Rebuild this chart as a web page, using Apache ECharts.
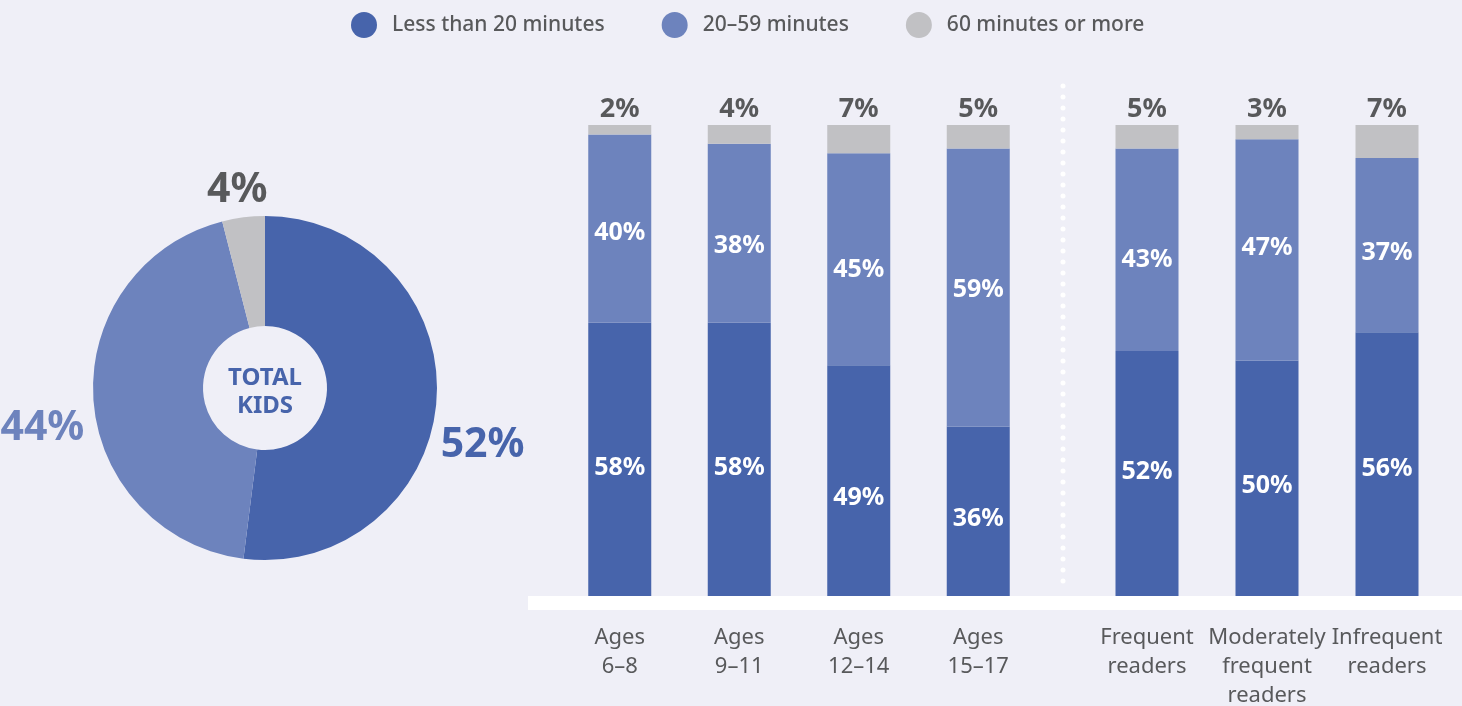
<!DOCTYPE html>
<html>
<head>
<meta charset="utf-8">
<script src="https://cdn.jsdelivr.net/npm/echarts@6/dist/echarts.min.js"></script>
<style>
  html, body { margin: 0; padding: 0; background: #efeff7; }
  #chart { width: 1462px; height: 706px; }
</style>
</head>
<body>
<div id="chart"></div>
<script>
// 数据
var seriesNames = ['Less than 20 minutes', '20–59 minutes', '60 minutes or more'];
var totalKids = [52, 44, 4];

var ageCats = ['Ages\n6–8', 'Ages\n9–11', 'Ages\n12–14', 'Ages\n15–17'];
var ageUnder20 = [58, 58, 49, 36];
var age20to59 = [40, 38, 45, 59];
var age60plus = [2, 4, 7, 5];

var readerCats = ['Frequent\nreaders', 'Moderately\nfrequent\nreaders', 'Infrequent\nreaders'];
var readerUnder20 = [52, 50, 56];
var reader20to59 = [43, 47, 37];
var reader60plus = [5, 3, 7];

var colors = ['#4764ab', '#6d83bd', '#c1c1c4'];
var grayText = '#58595b';
var font = '"Noto Sans"';

// 标签偏移（像素）
var pieLabelShift = [[4, 47], [-9, 30], [24, -27]];
var ageDarkNudge = [8, 8, 17, 8];
var ageMidNudge = [4, 13, 11, 2];
var readerDarkNudge = [-2, 8, 5];
var readerMidNudge = [10, -2, 8];

var myChart = echarts.init(document.getElementById('chart'));

function pctLabel(p) { return p.value + '%'; }

function barSeries(name, data, idx, color, label, nudge) {
    var s = {
        name: name,
        type: 'bar',
        stack: 'g' + idx,
        xAxisIndex: idx,
        yAxisIndex: idx,
        barWidth: 63,
        data: data,
        itemStyle: { color: color },
        label: label
    };
    if (nudge) {
        s.labelLayout = function(params) {
            return { dy: nudge[params.dataIndex] };
        };
    }
    return s;
}

var insideLabel = {
    show: true,
    position: 'inside',
    color: '#fff',
    fontFamily: font,
    fontWeight: 'bold',
    fontSize: 25,
    formatter: pctLabel
};
var topLabel = {
    show: true,
    position: 'top',
    distance: 2,
    color: grayText,
    fontFamily: font,
    fontWeight: 'bold',
    fontSize: 27,
    formatter: pctLabel
};

function xAxisOf(idx, cats) {
    return {
        type: 'category',
        gridIndex: idx,
        data: cats,
        axisLine: { show: false },
        axisTick: { show: false },
        axisLabel: {
            color: grayText,
            fontFamily: font,
            fontSize: 22,
            lineHeight: 29,
            margin: 27,
            interval: 0
        }
    };
}
var yAxisBase = { type: 'value', min: 0, max: 100, show: false };

var option = {
    backgroundColor: '#efeff7',
    animation: false,
    legend: {
        left: 346,
        top: 7,
        icon: 'circle',
        itemWidth: 26,
        itemHeight: 26,
        itemGap: 57,
        data: seriesNames,
        textStyle: {
            color: grayText,
            fontFamily: font,
            fontWeight: 500,
            fontSize: 21,
            padding: [0, 0, 0, 10]
        }
    },
    grid: [
        { left: 560, width: 478, top: 125, bottom: 110, outerBoundsMode: 'none' },
        { left: 1087, width: 360, top: 125, bottom: 110, outerBoundsMode: 'none' }
    ],
    xAxis: [
        xAxisOf(0, ageCats),
        xAxisOf(1, readerCats)
    ],
    yAxis: [
        Object.assign({ gridIndex: 0 }, yAxisBase),
        Object.assign({ gridIndex: 1 }, yAxisBase)
    ],
    graphic: [
        {
            type: 'rect',
            shape: { x: 528, y: 596, width: 934, height: 14 },
            style: { fill: '#ffffff' },
            silent: true
        },
        {
            type: 'line',
            shape: { x1: 1063, y1: 86, x2: 1063, y2: 592 },
            style: { stroke: '#ffffff', lineWidth: 5, lineDash: [0, 11], lineCap: 'round' },
            silent: true
        }
    ],
    series: [
        {
            type: 'pie',
            center: [265, 388],
            radius: [62, 172],
            startAngle: 90,
            clockwise: true,
            avoidLabelOverlap: false,
            silent: true,
            data: totalKids.map(function(v, i) {
                return { value: v, name: seriesNames[i], itemStyle: { color: colors[i] },
                    label: { color: i === 2 ? grayText : colors[i] } };
            }),
            label: {
                show: true,
                position: 'outside',
                fontFamily: font,
                fontWeight: 'bold',
                fontSize: 41,
                distanceToLabelLine: 0,
                formatter: pctLabel
            },
            labelLine: { show: false, length: 0, length2: 0 },
            labelLayout: function(params) {
                var s = pieLabelShift[params.dataIndex];
                return { dx: s[0], dy: s[1] };
            }
        },
        {
            type: 'pie',
            center: [265, 392],
            radius: [0, 60],
            silent: true,
            data: [{ value: 1, name: 'TOTAL\nKIDS' }],
            itemStyle: { color: 'rgba(0,0,0,0)' },
            label: {
                show: true,
                position: 'center',
                color: colors[0],
                fontFamily: font,
                fontWeight: 'bold',
                fontSize: 24,
                lineHeight: 28
            },
            labelLine: { show: false }
        },
        barSeries(seriesNames[0], ageUnder20, 0, colors[0], insideLabel, ageDarkNudge),
        barSeries(seriesNames[1], age20to59, 0, colors[1], insideLabel, ageMidNudge),
        barSeries(seriesNames[2], age60plus, 0, colors[2], topLabel),
        barSeries(seriesNames[0], readerUnder20, 1, colors[0], insideLabel, readerDarkNudge),
        barSeries(seriesNames[1], reader20to59, 1, colors[1], insideLabel, readerMidNudge),
        barSeries(seriesNames[2], reader60plus, 1, colors[2], topLabel)
    ]
};

myChart.setOption(option);
</script>
</body>
</html>
